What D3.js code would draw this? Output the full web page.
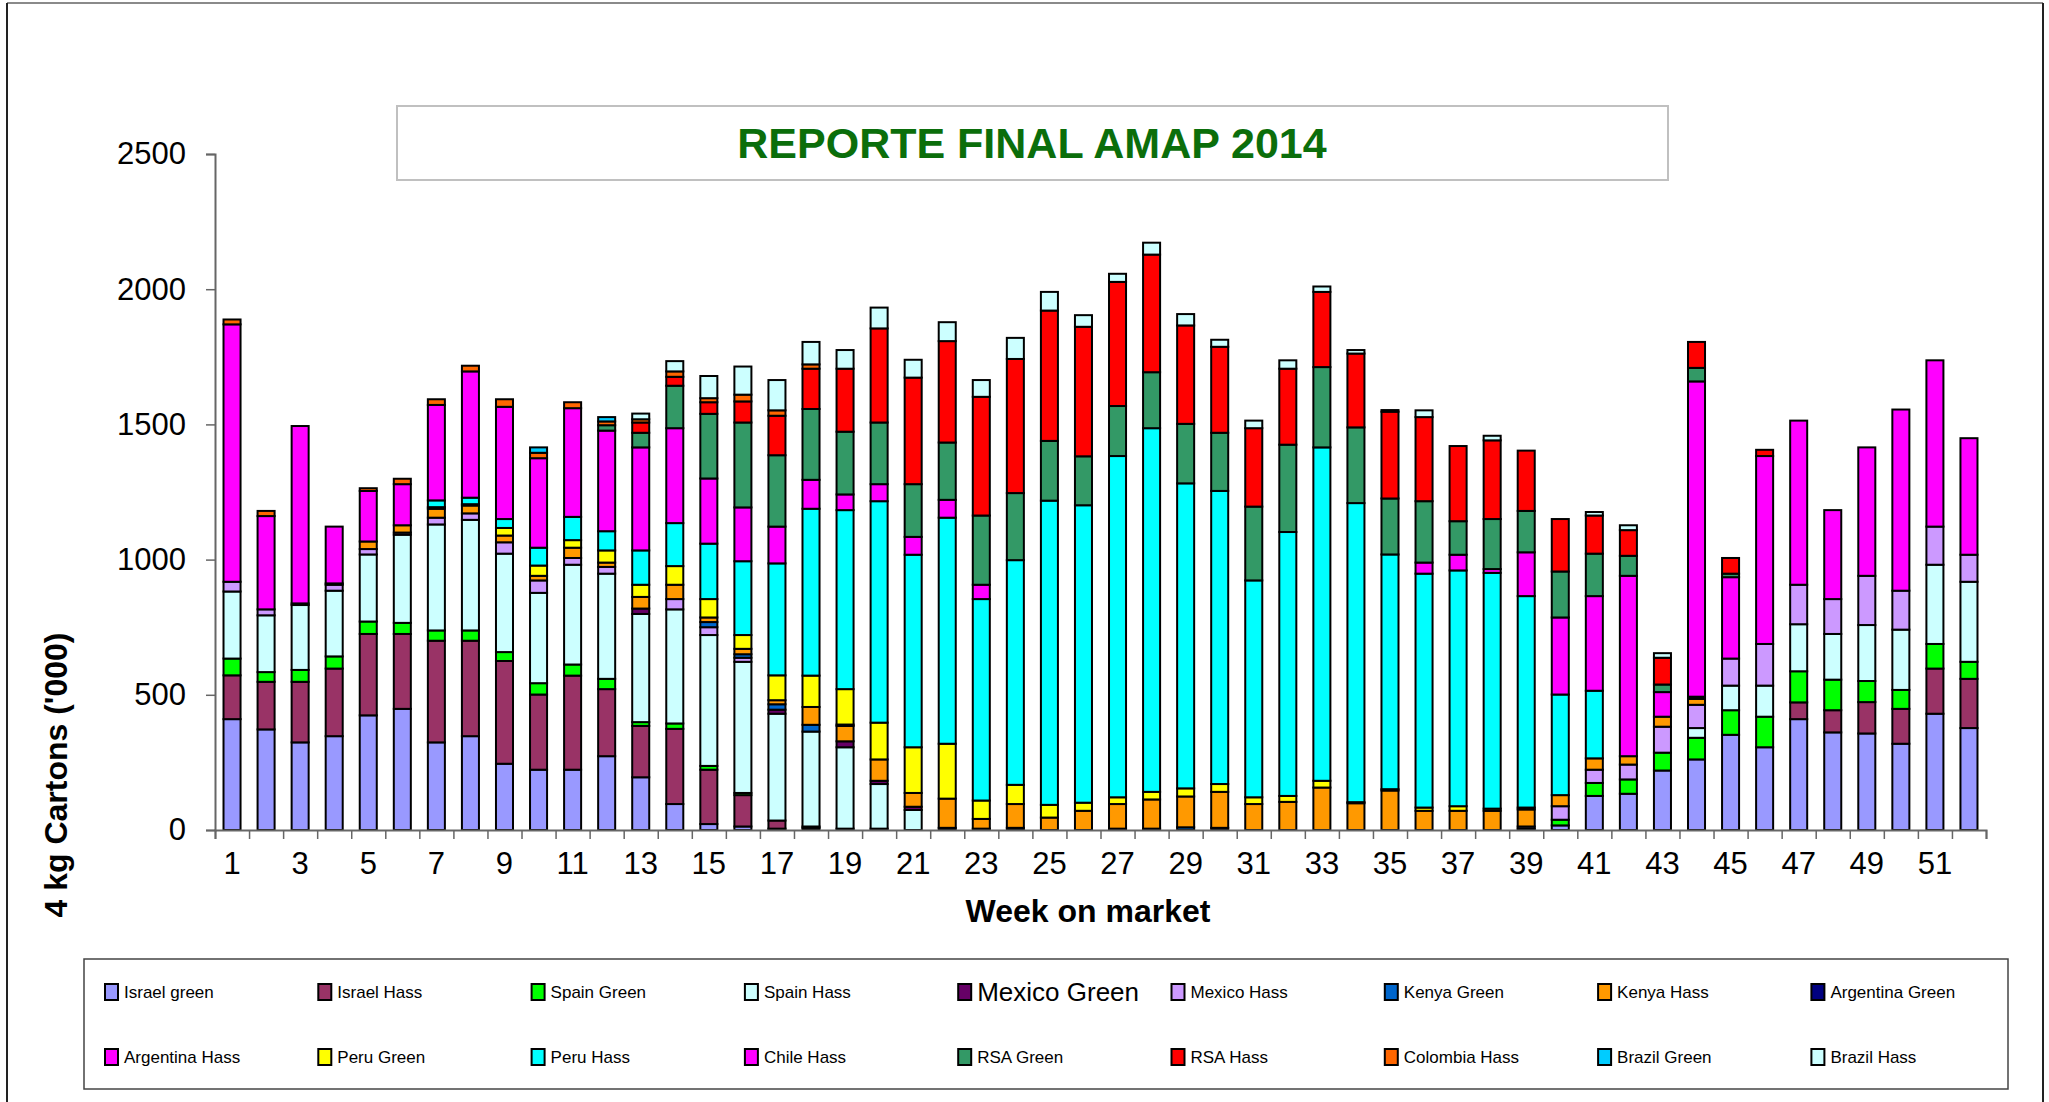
<!DOCTYPE html>
<html>
<head>
<meta charset="utf-8">
<script src="https://cdn.jsdelivr.net/npm/d3@7"></script>
<style>
  body { margin: 0; background: #fff; }
  text { font-family: "Liberation Sans", Arial, sans-serif; }
</style>
</head>
<body>
<div class="chart-area"></div>
<script>
// weeks on market
let weeks = d3.range(1, 53);

// series values, '000 cartons per week
let israelGreen = [410,372,324,347,424,448,324,347,245,223, 223,273,195,96,22,13,5,8,5,5, 0,0,0,0,0,0,0,0,0,0, 0,0,0,0,0,0,0,0,5,17, 126,134,220,261,352,306,410,361,357,319, 430,377];
let israelHass = [162,176,224,250,301,277,376,353,380,278, 348,248,190,278,201,116,30,5,0,0, 0,0,0,0,0,0,0,0,0,0, 0,0,0,0,0,0,0,0,0,0, 0,0,0,0,0,0,62,82,116,129, 167,182];
let spainGreen = [62,36,44,45,46,41,38,38,33,42, 41,38,14,20,14,8,0,0,0,0, 0,0,0,0,0,0,0,0,0,0, 0,0,0,0,0,0,0,0,0,21, 48,53,66,80,91,113,115,113,78,70, 91,63];
let spainHass = [248,210,240,243,248,326,392,409,364,334, 369,389,400,422,484,485,395,351,301,165, 74,0,0,0,0,0,0,0,0,0, 0,0,0,0,0,0,0,0,0,0, 0,0,0,36,91,115,174,169,207,223, 293,296];
let mexicoGreen = [0,0,6,0,0,0,0,0,0,0, 0,0,20,0,0,0,15,0,22,12, 12,0,0,0,0,0,0,0,0,0, 0,0,0,0,0,0,0,0,0,0, 0,0,0,0,0,0,0,0,0,0, 0,0];
let mexicoHass = [36,22,0,22,20,8,25,24,42,46, 25,25,0,38,29,15,0,0,0,0, 0,0,0,0,0,0,0,0,0,0, 0,0,0,0,0,0,0,0,8,50, 49,55,96,86,100,154,146,129,182,144, 141,100];
let kenyaGreen = [0,0,0,0,0,0,0,0,0,0, 0,0,0,0,19,13,20,25,0,0, 0,8,5,8,0,0,5,5,10,8, 0,0,0,0,0,0,0,0,0,0, 0,0,0,0,0,0,0,0,0,0, 0,0];
let kenyaHass = [0,0,0,5,28,27,33,29,25,17, 38,16,43,53,17,20,15,66,57,79, 51,108,36,88,46,71,91,108,114,133, 96,104,157,99,146,71,71,71,63,41, 42,31,37,22,0,0,0,0,0,0, 0,0];
let argentinaGreen = [0,0,0,0,0,0,6,5,0,0, 0,0,0,0,0,0,0,0,5,0, 0,0,0,0,0,0,0,0,0,0, 0,0,0,0,0,0,0,0,0,0, 0,0,0,8,0,0,0,0,0,0, 0,0];
let argentinaHass = [0,0,0,0,0,0,0,0,0,0, 0,0,0,0,0,0,0,0,0,0, 0,0,0,0,0,0,0,0,0,0, 0,0,0,0,0,0,0,0,0,0, 0,0,0,0,0,0,0,0,0,0, 0,0];
let peruGreen = [0,0,0,0,0,0,0,0,28,38, 28,45,45,69,68,51,92,116,131,136, 169,203,68,71,47,30,25,28,30,29, 25,22,25,4,5,12,17,8,7,0, 0,0,0,0,0,0,0,0,0,0, 0,0];
let peruHass = [0,0,0,0,0,0,25,24,33,66, 86,71,127,159,205,273,414,617,662,819, 712,836,745,831,1125,1100,1262,1345,1128,1084, 802,976,1233,1106,868,865,872,872,782,372, 250,0,0,0,0,0,0,0,0,0, 0,0];
let chileHass = [952,345,656,210,187,152,353,467,415,331, 402,372,381,351,241,199,136,107,58,63, 66,66,53,0,0,0,0,0,0,0, 0,0,0,0,0,41,58,14,162,285, 350,667,91,1166,301,695,607,329,475,670, 615,431];
let rsaGreen = [0,0,0,0,0,0,0,0,0,0, 0,20,54,157,239,314,264,262,232,228, 195,212,256,248,221,181,185,207,220,215, 273,323,297,280,207,227,124,185,153,170, 157,74,28,50,13,0,0,0,0,0, 0,0];
let rsaHass = [0,0,0,0,0,0,0,0,0,0, 0,0,38,33,43,78,146,149,233,348, 394,375,439,496,482,479,459,435,364,318, 290,281,278,273,321,311,278,291,223,194, 141,95,99,96,58,23,0,0,0,0, 0,0];
let colombiaHass = [18,19,0,0,10,20,21,21,28,20, 22,14,12,20,15,25,20,16,0,0, 0,0,0,0,0,0,0,0,0,0, 0,0,0,0,0,0,0,0,0,0, 0,0,0,0,0,0,0,0,0,0, 0,0];
let brazilGreen = [0,0,0,0,0,0,0,0,0,20, 0,16,0,0,0,0,0,0,0,0, 0,0,0,0,0,0,0,0,0,0, 0,0,0,0,0,0,0,0,0,0, 0,0,0,0,0,0,0,0,0,0, 0,0];
let brazilHass = [0,0,0,0,0,0,0,0,0,0, 0,0,21,38,82,104,112,83,69,77, 66,70,62,78,69,43,30,44,42,26, 28,31,20,13,6,25,0,17,0,0, 13,18,17,0,0,0,0,0,0,0, 0,0];

let seriesNames = ["Israel green","Israel Hass","Spain Green","Spain Hass","Mexico Green","Mexico Hass",
  "Kenya Green","Kenya Hass","Argentina Green","Argentina Hass","Peru Green","Peru Hass",
  "Chile Hass","RSA Green","RSA Hass","Colombia Hass","Brazil Green","Brazil Hass"];
let seriesValues = [israelGreen,israelHass,spainGreen,spainHass,mexicoGreen,mexicoHass,
  kenyaGreen,kenyaHass,argentinaGreen,argentinaHass,peruGreen,peruHass,
  chileHass,rsaGreen,rsaHass,colombiaHass,brazilGreen,brazilHass];
let seriesColors = ["#9999ff","#993366","#00ff00","#ccffff","#660066","#cc99ff",
  "#0066cc","#ff9900","#000080","#ff00ff","#ffff00","#00ffff",
  "#ff00ff","#339966","#ff0000","#ff6600","#00ccff","#ccffff"];
let yTicks = [0,500,1000,1500,2000,2500];

// table for d3.stack
let table = weeks.map((w, i) => {
    let row = {week: w};
    seriesNames.forEach((s, j) => row[s] = seriesValues[j][i]);
    return row;
});

let outerWidth = 2049, outerHeight = 1102;
let plot = {left: 215, right: 1986, top: 154, bottom: 830};

let svg = d3.select('.chart-area').append('svg')
    .attr('width', outerWidth)
    .attr('height', outerHeight);

// outer frame
svg.append("line").attr("x1", 7).attr("x2", 2043).attr("y1", 3).attr("y2", 3)
    .attr("stroke", "#8a8a8a").attr("stroke-width", 2);
svg.append("line").attr("x1", 7).attr("x2", 7).attr("y1", 3).attr("y2", outerHeight)
    .attr("stroke", "#222").attr("stroke-width", 2);
svg.append("line").attr("x1", 2043).attr("x2", 2043).attr("y1", 3).attr("y2", outerHeight)
    .attr("stroke", "#222").attr("stroke-width", 2);

let xScale = d3.scaleBand()
    .domain(weeks)
    .range([plot.left, plot.right])
    .paddingInner(0.5)
    .paddingOuter(0.25);

let yScale = d3.scaleLinear()
    .domain([0, 2500])
    .range([plot.bottom, plot.top]);

// stacked bars
let stacked = d3.stack().keys(seriesNames)(table);

svg.append("g").selectAll("g")
    .data(stacked)
    .join("g")
    .attr("fill", (d, i) => seriesColors[i])
    .selectAll("rect")
    .data(d => d.filter(p => p[1] - p[0] > 0))
    .join("rect")
    .attr("x", d => xScale(d.data.week))
    .attr("width", xScale.bandwidth())
    .attr("y", d => yScale(d[1]))
    .attr("height", d => yScale(d[0]) - yScale(d[1]))
    .attr("stroke", "black")
    .attr("stroke-width", 2);

// y axis
let yAxis = d3.axisLeft(yScale).tickValues(yTicks).tickFormat(d3.format("d")).tickSize(9).tickPadding(20);
let yaxis = svg.append("g")
    .attr("transform", `translate(${plot.left},0)`)
    .call(yAxis);
yaxis.select(".domain").attr("stroke", "#666").attr("stroke-width", 2);
yaxis.selectAll(".tick line").attr("stroke", "#666").attr("stroke-width", 1.5);
yaxis.selectAll(".tick text")
    .attr("font-family", "Liberation Sans, Arial, sans-serif")
    .attr("font-size", 31).attr("fill", "#000");

// x axis: tick marks between weeks, labels on odd weeks
let tickScale = d3.scaleLinear().domain([0, 52]).range([plot.left, plot.right]);
let xTickAxis = d3.axisBottom(tickScale).tickValues(d3.range(0, 53)).tickSize(9).tickFormat("");
let xaxis = svg.append("g")
    .attr("transform", `translate(0,${plot.bottom})`)
    .call(xTickAxis);
xaxis.select(".domain").attr("stroke", "#666").attr("stroke-width", 2);
xaxis.selectAll(".tick line").attr("stroke", "#666").attr("stroke-width", 1.5);

let xLabelAxis = d3.axisBottom(xScale).tickValues(weeks.filter(w => w % 2 == 1)).tickSize(0).tickPadding(22);
let xlabels = svg.append("g")
    .attr("transform", `translate(0,${plot.bottom})`)
    .call(xLabelAxis);
xlabels.select(".domain").remove();
xlabels.selectAll(".tick text")
    .attr("font-family", "Liberation Sans, Arial, sans-serif")
    .attr("font-size", 31).attr("fill", "#000");

// axis titles
svg.append("text")
    .attr("x", 1088).attr("y", 911)
    .attr("text-anchor", "middle").attr("dominant-baseline", "central")
    .attr("font-size", 32).attr("font-weight", "bold")
    .text("Week on market");

svg.append("text")
    .attr("transform", "translate(56,775) rotate(-90)")
    .attr("text-anchor", "middle").attr("dominant-baseline", "central")
    .attr("font-size", 32).attr("font-weight", "bold")
    .text("4 kg Cartons ('000)");

// title box
svg.append("rect")
    .attr("x", 397).attr("y", 106).attr("width", 1271).attr("height", 74)
    .attr("fill", "white").attr("stroke", "#c0c0c0").attr("stroke-width", 2);
svg.append("text")
    .attr("x", 1032).attr("y", 143)
    .attr("text-anchor", "middle").attr("dominant-baseline", "central")
    .attr("font-size", 43).attr("font-weight", "bold").attr("fill", "#0b6e0b")
    .text("REPORTE FINAL AMAP 2014");

// legend
svg.append("rect")
    .attr("x", 84).attr("y", 959).attr("width", 1924).attr("height", 130)
    .attr("fill", "white").attr("stroke", "#444").attr("stroke-width", 1.5);

let legend = svg.append("g").selectAll("g")
    .data(seriesNames)
    .join("g")
    .attr("transform", (d, i) => `translate(${105 + (i % 9) * 213.3},${i < 9 ? 992 : 1057})`);

legend.append("rect")
    .attr("x", 0).attr("y", -8).attr("width", 13).attr("height", 16)
    .attr("fill", (d, i) => seriesColors[i])
    .attr("stroke", "black").attr("stroke-width", 2);

legend.append("text")
    .attr("x", 19).attr("y", 0)
    .attr("dominant-baseline", "central")
    .attr("font-size", d => d == "Mexico Green" ? 26 : 17)
    .text(d => d);
</script>
</body>
</html>
